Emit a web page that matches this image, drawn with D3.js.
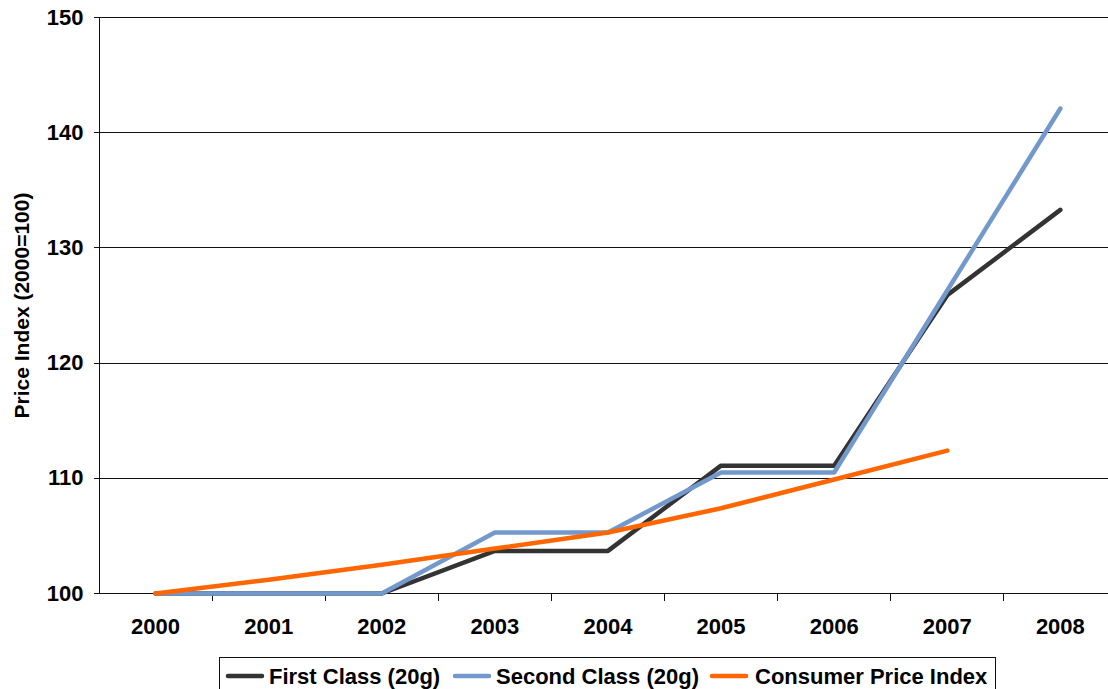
<!DOCTYPE html>
<html>
<head>
<meta charset="utf-8">
<script src="https://cdn.jsdelivr.net/npm/d3@7"></script>
<style>
  html, body { margin: 0; padding: 0; background: #fff; }
  svg { display: block; font-family: "Liberation Sans", Arial, sans-serif; font-weight: bold; }
</style>
</head>
<body>
<svg id="chart" width="1108" height="689"></svg>
<script>
// Postage price index vs CPI, 2000 = 100
const years = ["2000", "2001", "2002", "2003", "2004", "2005", "2006", "2007", "2008"];
const firstClass  = [100, 100, 100, 103.7, 103.7, 111.1, 111.1, 125.9, 133.3];
const secondClass = [100, 100, 100, 105.3, 105.3, 110.5, 110.5, 126.3, 142.1];
const cpi         = [100, 101.2, 102.5, 103.9, 105.3, 107.4, 109.9, 112.4];
const yTicks = [100, 110, 120, 130, 140, 150];

const seriesList = [
  { name: "First Class (20g)",    values: firstClass,  color: "#333333" },
  { name: "Second Class (20g)",   values: secondClass, color: "#7399CC" },
  { name: "Consumer Price Index", values: cpi,         color: "#FF6600" }
];

const FONT = "'Liberation Sans', Arial, sans-serif";
const svg = d3.select("#chart");
const plotLeft = 99, plotTop = 17.5, plotBottom = 593.5, bandW = 113.1;
const plotRight = plotLeft + bandW * years.length;

const x = d3.scaleBand().domain(years).range([plotLeft, plotRight]);
const y = d3.scaleLinear().domain([100, 150]).range([plotBottom, plotTop]);
const crisp = v => Math.round(v - 0.5) + 0.5;

// horizontal gridlines
svg.append("g")
  .selectAll("line")
  .data(yTicks.filter(d => d > 100))
  .join("line")
  .attr("x1", plotLeft).attr("x2", plotRight)
  .attr("y1", d => crisp(y(d))).attr("y2", d => crisp(y(d)))
  .attr("stroke", "#111").attr("stroke-width", 1)
  .attr("shape-rendering", "crispEdges");

// y axis
const yAxis = svg.append("g")
  .attr("transform", `translate(${plotLeft + 0.5},0)`)
  .call(d3.axisLeft(y).tickValues(yTicks).tickSize(6).tickPadding(10).offset(0));
yAxis.attr("shape-rendering", "crispEdges");
yAxis.select(".domain").attr("stroke", "#111");
yAxis.selectAll(".tick line").attr("stroke", "#111");
yAxis.selectAll("text")
  .attr("font-size", 22).attr("font-weight", "bold").attr("fill", "#000")
  .attr("font-family", FONT);

// x axis with ticks at category boundaries
const xAxis = svg.append("g")
  .attr("transform", `translate(0,${plotBottom})`)
  .call(d3.axisBottom(x).tickSize(0).tickPadding(25).offset(0));
xAxis.attr("shape-rendering", "crispEdges");
xAxis.select(".domain").attr("stroke", "#111");
xAxis.selectAll("text")
  .attr("font-size", 22).attr("font-weight", "bold").attr("fill", "#000")
  .attr("font-family", FONT);
xAxis.selectAll("line.boundary")
  .data(years.slice(1))
  .join("line")
  .attr("class", "boundary")
  .attr("x1", d => crisp(x(d))).attr("x2", d => crisp(x(d)))
  .attr("y1", 0).attr("y2", 7)
  .attr("stroke", "#111");

// y axis title
svg.append("text")
  .attr("transform", `translate(29,${(plotTop + plotBottom) / 2 + 0}) rotate(-90)`)
  .attr("text-anchor", "middle")
  .attr("font-size", 21)
  .attr("font-family", FONT)
  .attr("fill", "#000")
  .text("Price Index (2000=100)");

// series lines
const line = d3.line()
  .x((d, i) => x(years[i]) + x.bandwidth() / 2)
  .y(d => y(d));

svg.append("g")
  .selectAll("path")
  .data(seriesList)
  .join("path")
  .attr("d", s => line(s.values))
  .attr("fill", "none")
  .attr("stroke", s => s.color)
  .attr("stroke-width", 4.5)
  .attr("stroke-linejoin", "round")
  .attr("stroke-linecap", "round");

// legend
const legend = svg.append("g");
legend.append("rect")
  .attr("x", 219.5).attr("y", 657.5)
  .attr("width", 776).attr("height", 40)
  .attr("fill", "#fff").attr("stroke", "#111")
  .attr("shape-rendering", "crispEdges");

const legendItems = [
  { s: seriesList[0], sx: 228, tx: 269 },
  { s: seriesList[1], sx: 455, tx: 496 },
  { s: seriesList[2], sx: 712, tx: 755 }
];
legendItems.forEach(it => {
  legend.append("line")
    .attr("x1", it.sx).attr("x2", it.sx + 34)
    .attr("y1", 676).attr("y2", 676)
    .attr("stroke", it.s.color).attr("stroke-width", 4.5)
    .attr("stroke-linecap", "round");
  legend.append("text")
    .attr("x", it.tx).attr("y", 684)
    .attr("font-size", 22)
    .attr("font-family", FONT)
    .attr("fill", "#000")
    .text(it.s.name);
});
</script>
</body>
</html>
